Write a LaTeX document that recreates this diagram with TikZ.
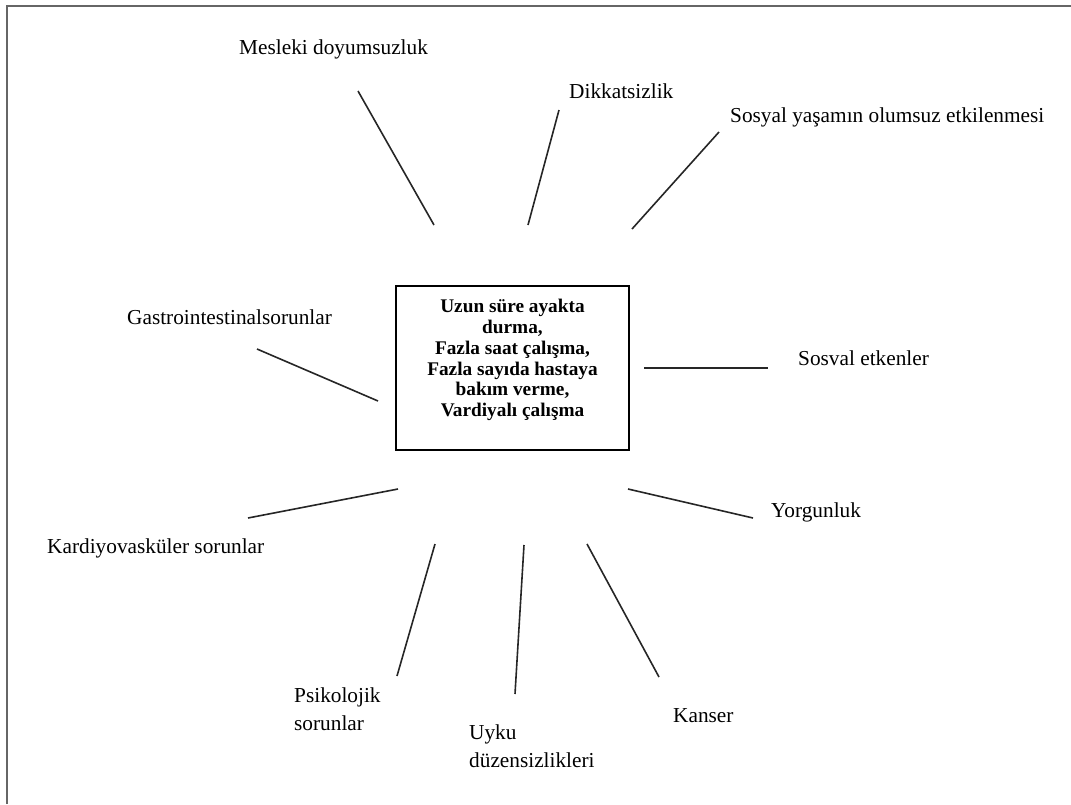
\documentclass[tikz,border=0pt]{standalone}
\usepackage{fontspec}
\setmainfont{Liberation Serif}
\begin{document}
\begin{tikzpicture}[x=1pt,y=-1pt,
  lbl/.style={anchor=base west,inner sep=0pt,font=\fontsize{21.3}{28}\selectfont,align=left},
  spoke/.style={line width=1.6pt,black!85},
  framestyle/.style={line width=2.2pt,black!60}]
\useasboundingbox (0,0) rectangle (1071,804);
% outer frame (only top and left edges visible)
\coordinate (fbl) at (7,804);
\coordinate (ftl) at (7,6);
\coordinate (ftr) at (1071,6);
\draw[framestyle] (fbl) -- (ftl) -- (ftr);
% central box
\node[draw,line width=1.5pt,minimum width=233pt,minimum height=164pt,inner sep=0pt] (box) at (512.5,368) {};
\node[align=center,font=\fontsize{19.3}{20.8}\selectfont\bfseries,inner sep=0pt] (boxtext) at (512.5,360)
  {Uzun süre ayakta\\durma,\\Fazla saat çalışma,\\Fazla sayıda hastaya\\bakım verme,\\Vardiyalı çalışma};
% labels
\node[lbl] (mes) at (239,54) {Mesleki doyumsuzluk};
\node[lbl] (dik) at (569,98) {Dikkatsizlik};
\node[lbl] (sos) at (730,122) {Sosyal yaşamın olumsuz etkilenmesi};
\node[lbl] (gas) at (127,324) {Gastrointestinalsorunlar};
\node[lbl] (sev) at (798,365) {Sosval etkenler};
\node[lbl] (yor) at (771,517) {Yorgunluk};
\node[lbl] (kar) at (47,553) {Kardiyovasküler sorunlar};
\node[lbl,anchor=north west] (psi) at (294,688) {Psikolojik\\sorunlar};
\node[lbl,anchor=north west] (uyk) at (469,725) {Uyku\\düzensizlikleri};
\node[lbl] (kan) at (673,722) {Kanser};
% spoke end points
\coordinate (m1) at (358,91);  \coordinate (m2) at (434,225);
\coordinate (d1) at (559,110); \coordinate (d2) at (528,225);
\coordinate (s1) at (719,132); \coordinate (s2) at (632,229);
\coordinate (g1) at (257,349); \coordinate (g2) at (378,401);
\coordinate (e1) at (644,368); \coordinate (e2) at (768,368);
\coordinate (y1) at (628,489); \coordinate (y2) at (753,518);
\coordinate (k1) at (398,489); \coordinate (k2) at (248,518);
\coordinate (p1) at (435,544); \coordinate (p2) at (397,676);
\coordinate (u1) at (524,545); \coordinate (u2) at (515,694);
\coordinate (c1) at (587,544); \coordinate (c2) at (659,677);
\draw[spoke] (m1) -- (m2);
\draw[spoke] (d1) -- (d2);
\draw[spoke] (s1) -- (s2);
\draw[spoke] (g1) -- (g2);
\draw[spoke] (e1) -- (e2);
\draw[spoke] (y1) -- (y2);
\draw[spoke] (k1) -- (k2);
\draw[spoke] (p1) -- (p2);
\draw[spoke] (u1) -- (u2);
\draw[spoke] (c1) -- (c2);
\end{tikzpicture}
\end{document}
